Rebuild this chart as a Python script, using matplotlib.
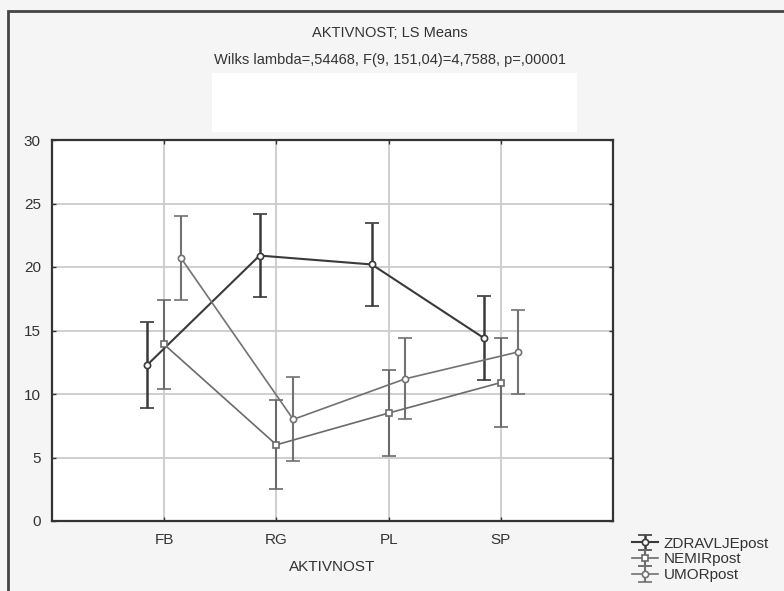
import numpy as np
import matplotlib.pyplot as plt
import matplotlib.patches as mpatches

plt.rcParams['font.family'] = ['Liberation Sans', 'DejaVu Sans']

categories = ['FB', 'RG', 'PL', 'SP']
series_names = ['ZDRAVLJEpost', 'NEMIRpost', 'UMORpost']
zdravlje = [12.3, 20.9, 20.2, 14.4]
zdravlje_err = [3.4, 3.3, 3.3, 3.3]
nemir = [13.9, 6.0, 8.5, 10.9]
nemir_err = [3.5, 3.5, 3.4, 3.5]
umor = [20.7, 8.0, 11.2, 13.3]
umor_err = [3.3, 3.3, 3.2, 3.3]

colors = ['#3a3a3a', '#6a6a6a', '#727272']
markers = ['o', 's', 'o']
offsets = [-0.15, 0.0, 0.15]

fig = plt.figure(figsize=(7.84, 5.91), dpi=100, facecolor='#f5f5f5')
# outer frame
fig.add_artist(mpatches.Rectangle((8/784, -0.1), 2, 1.1 - 11/591, transform=fig.transFigure,
                                  fill=False, edgecolor='#444444', lw=2))
# blank white box under subtitle
fig.add_artist(mpatches.Rectangle((212/784, 1 - 132/591), 365/784, 59/591, transform=fig.transFigure,
                                  facecolor='white', edgecolor='none'))

ax = fig.add_axes([52/784, 1 - 521/591, 561/784, 381/591])
ax.set_facecolor('white')

x = np.arange(1, len(categories) + 1)
data = [(zdravlje, zdravlje_err), (nemir, nemir_err), (umor, umor_err)]
handles = []
for i, (vals, errs) in enumerate(data):
	lw = 1.5 if i == 0 else 1.2
	h = ax.errorbar(x + offsets[i], vals, yerr=errs, color=colors[i], lw=lw, elinewidth=lw + 0.3,
	                capsize=4.8, capthick=lw + 0.3, marker=markers[i], markersize=4.5,
	                markerfacecolor='white', markeredgecolor=colors[i], markeredgewidth=1.2,
	                label=series_names[i], zorder=3)
	handles.append(h)

ax.set_xlim(0, 5)
ax.set_ylim(0, 30)
ax.set_xticks(x)
ax.set_xticklabels(categories)
ax.set_yticks(np.arange(0, 31, 5))
ax.grid(color='#cccccc', lw=1.3, zorder=0)
ax.set_axisbelow(True)
for s in ax.spines.values():
	s.set_color('#333333')
	s.set_linewidth(1.6)
ax.tick_params(direction='in', length=3, width=1, color='#333333', labelsize=11,
               labelcolor='#333333', top=True, right=True)
ax.tick_params(axis='y', pad=8)
ax.tick_params(axis='x', pad=9)
ax.set_xlabel('AKTIVNOST', fontsize=11, color='#333333', labelpad=9)

fig.text(0.497, 1 - 33/591, 'AKTIVNOST; LS Means', ha='center', va='center', fontsize=10.5, color='#333333')
fig.text(0.497, 1 - 60/591, 'Wilks lambda=,54468, F(9, 151,04)=4,7588, p=,00001', ha='center', va='center',
         fontsize=10.5, color='#333333')

fig.legend(handles=handles, labels=series_names, loc='upper left', bbox_to_anchor=(624/784, 1 - 529/591),
           frameon=False, fontsize=11, handlelength=1.7, handletextpad=0.4, labelspacing=0.12,
           borderpad=0, labelcolor='#333333')

plt.savefig('out.png', dpi=100, facecolor=fig.get_facecolor())
